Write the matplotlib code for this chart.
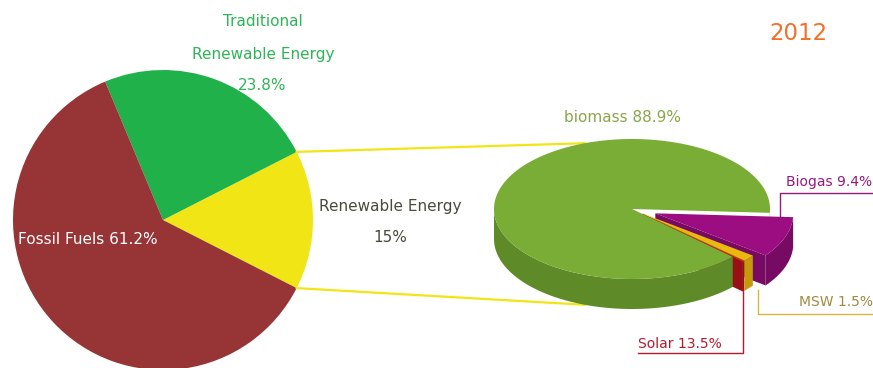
import matplotlib
matplotlib.use("Agg")
import matplotlib.pyplot as plt
import numpy as np

W, H = 873, 368

# left pie: share of energy sources
main_labels = ["Renewable Energy", "Traditional Renewable Energy", "Fossil Fuels"]
main_vals = [15.0, 23.8, 61.2]
main_colors = ["#f2e516", "#20b14b", "#973435"]

# right pie: breakdown of renewable energy
sub_labels = ["Solar", "MSW", "Biogas", "biomass"]
sub_vals = [0.2, 1.5, 9.4, 88.9]
sub_text = ["Solar 13.5%", "MSW 1.5%", "Biogas 9.4%", "biomass 88.9%"]
sub_top = ["#c3141b", "#e9b90e", "#9b0d80", "#79ad35"]
sub_side = ["#981015", "#c49a0a", "#770a63", "#5e8a28"]
sub_explode = [0.1, 0.1, 0.18, 0.0]

fig = plt.figure(figsize=(W / 100, H / 100), dpi=100)
ax = fig.add_axes([0, 0, 1, 1])

# ---- left pie
lc = (163, H - 220)
lr = 150
ax.pie(main_vals, colors=main_colors, startangle=-27, center=lc, radius=lr,
       frame=True, wedgeprops=dict(linewidth=0))
ax.set_xlim(0, W)
ax.set_ylim(0, H)
ax.set_aspect("auto")
ax.axis("off")

# ---- right 3d pie geometry
cx, cy = 632, H - 209
a, b, depth = 138, 70, 30


def pt(t, r=1.0, off=(0, 0), dz=0):
    return off[0] + cx + a * r * np.cos(t), off[1] + cy + b * r * np.sin(t) - dz


# yellow connector lines from the renewable slice to the right pie
yel_edge = np.deg2rad(-27 + 360 * main_vals[0] / 100)
p1 = (lc[0] + lr * np.cos(yel_edge), lc[1] + lr * np.sin(yel_edge))
p2 = (lc[0] + lr * np.cos(np.deg2rad(-27)), lc[1] + lr * np.sin(np.deg2rad(-27)))
q1 = pt(np.deg2rad(110))
q2 = pt(np.deg2rad(250), dz=depth)
ax.plot([p1[0], q1[0]], [p1[1], q1[1]], color="#f2e516", lw=1.6, zorder=1)
ax.plot([p2[0], q2[0]], [p2[1], q2[1]], color="#f2e516", lw=1.6, zorder=1)

start = -43.1
angles = start + 360 * np.concatenate([[0], np.cumsum(sub_vals)]) / 100


def slice_geom(i):
    t1, t2 = np.deg2rad(angles[i]), np.deg2rad(angles[i + 1])
    mid = (t1 + t2) / 2
    e = sub_explode[i]
    off = (a * e * np.cos(mid), b * e * np.sin(mid))
    return t1, t2, off, e


def draw_faces(i, z):
    t1, t2, off, e = slice_geom(i)
    for t, n in ((t1, t1 - np.pi / 2), (t2, t2 + np.pi / 2)):
        if np.sin(n) < 0:
            c0 = pt(0, r=0, off=off)
            c1 = pt(t, off=off)
            xs = [c0[0], c1[0], c1[0], c0[0]]
            ys = [c0[1], c1[1], c1[1] - depth, c0[1] - depth]
            ax.fill(xs, ys, color=sub_side[i], lw=0, zorder=z)


def draw_wall(i, z):
    t1, t2, off, e = slice_geom(i)
    ts = np.linspace(t1, t2, 400)
    vis = np.sin(ts) <= 0
    runs, cur = [], []
    for t, v in zip(ts, vis):
        if v:
            cur.append(t)
        elif cur:
            runs.append(cur)
            cur = []
    if cur:
        runs.append(cur)
    for run in runs:
        run = np.array(run)
        xs, ys = pt(run, off=off)
        xb, yb = pt(run[::-1], off=off, dz=depth)
        ax.fill(np.r_[xs, xb], np.r_[ys, yb], color=sub_side[i], lw=0, zorder=z)


def draw_top(i, z):
    t1, t2, off, e = slice_geom(i)
    ts = np.linspace(t1, t2, 400)
    xs, ys = pt(ts, off=off)
    c0 = pt(0, r=0, off=off)
    ax.fill(np.r_[c0[0], xs], np.r_[c0[1], ys], color=sub_top[i], lw=0, zorder=z)


for k, i in enumerate([2, 1, 0]):
    draw_faces(i, 2 + k)
draw_wall(3, 6)
draw_top(3, 7)
for k, i in enumerate([2, 1, 0]):
    draw_wall(i, 8 + k)
for k, i in enumerate([2, 1, 0]):
    draw_top(i, 12 + k)

# ---- texts left
fs = 11
green_txt = "#2fb457"
ax.text(263, H - 22, "Traditional", color=green_txt, fontsize=fs, ha="center", va="center")
ax.text(263, H - 55, "Renewable Energy", color=green_txt, fontsize=fs, ha="center", va="center")
ax.text(262, H - 85, "23.8%", color=green_txt, fontsize=fs, ha="center", va="center")
ax.text(18, H - 240, "Fossil Fuels 61.2%", color="white", fontsize=fs, ha="left", va="center")
ax.text(390, H - 206, "Renewable Energy", color="#4a4a3c", fontsize=fs, ha="center", va="center")
ax.text(390, H - 238, "15%", color="#4a4a3c", fontsize=fs, ha="center", va="center")

# ---- texts right
ax.text(623, H - 117, sub_text[3], color="#8aa64c", fontsize=fs, ha="center", va="center")

ax.text(786, H - 182, sub_text[2], color="#951a7c", fontsize=10, ha="left", va="center")
ax.plot([780, 780, W], [H - 222, H - 193, H - 193], color="#951a7c", lw=1.0, zorder=20)

ax.text(799, H - 302, sub_text[1], color="#a08a3e", fontsize=10, ha="left", va="center")
ax.plot([758, 758, W], [H - 290, H - 314, H - 314], color="#d8b640", lw=1.0, zorder=20)

ax.text(638, H - 344, sub_text[0], color="#b01c2a", fontsize=10, ha="left", va="center")
ax.plot([743, 743, 638], [H - 290, H - 353, H - 353], color="#b01c2a", lw=1.0, zorder=20)

ax.text(798, H - 33, "2012", color="#f07028", fontsize=16.5, ha="center", va="center")

fig.savefig("out.png", dpi=100)
